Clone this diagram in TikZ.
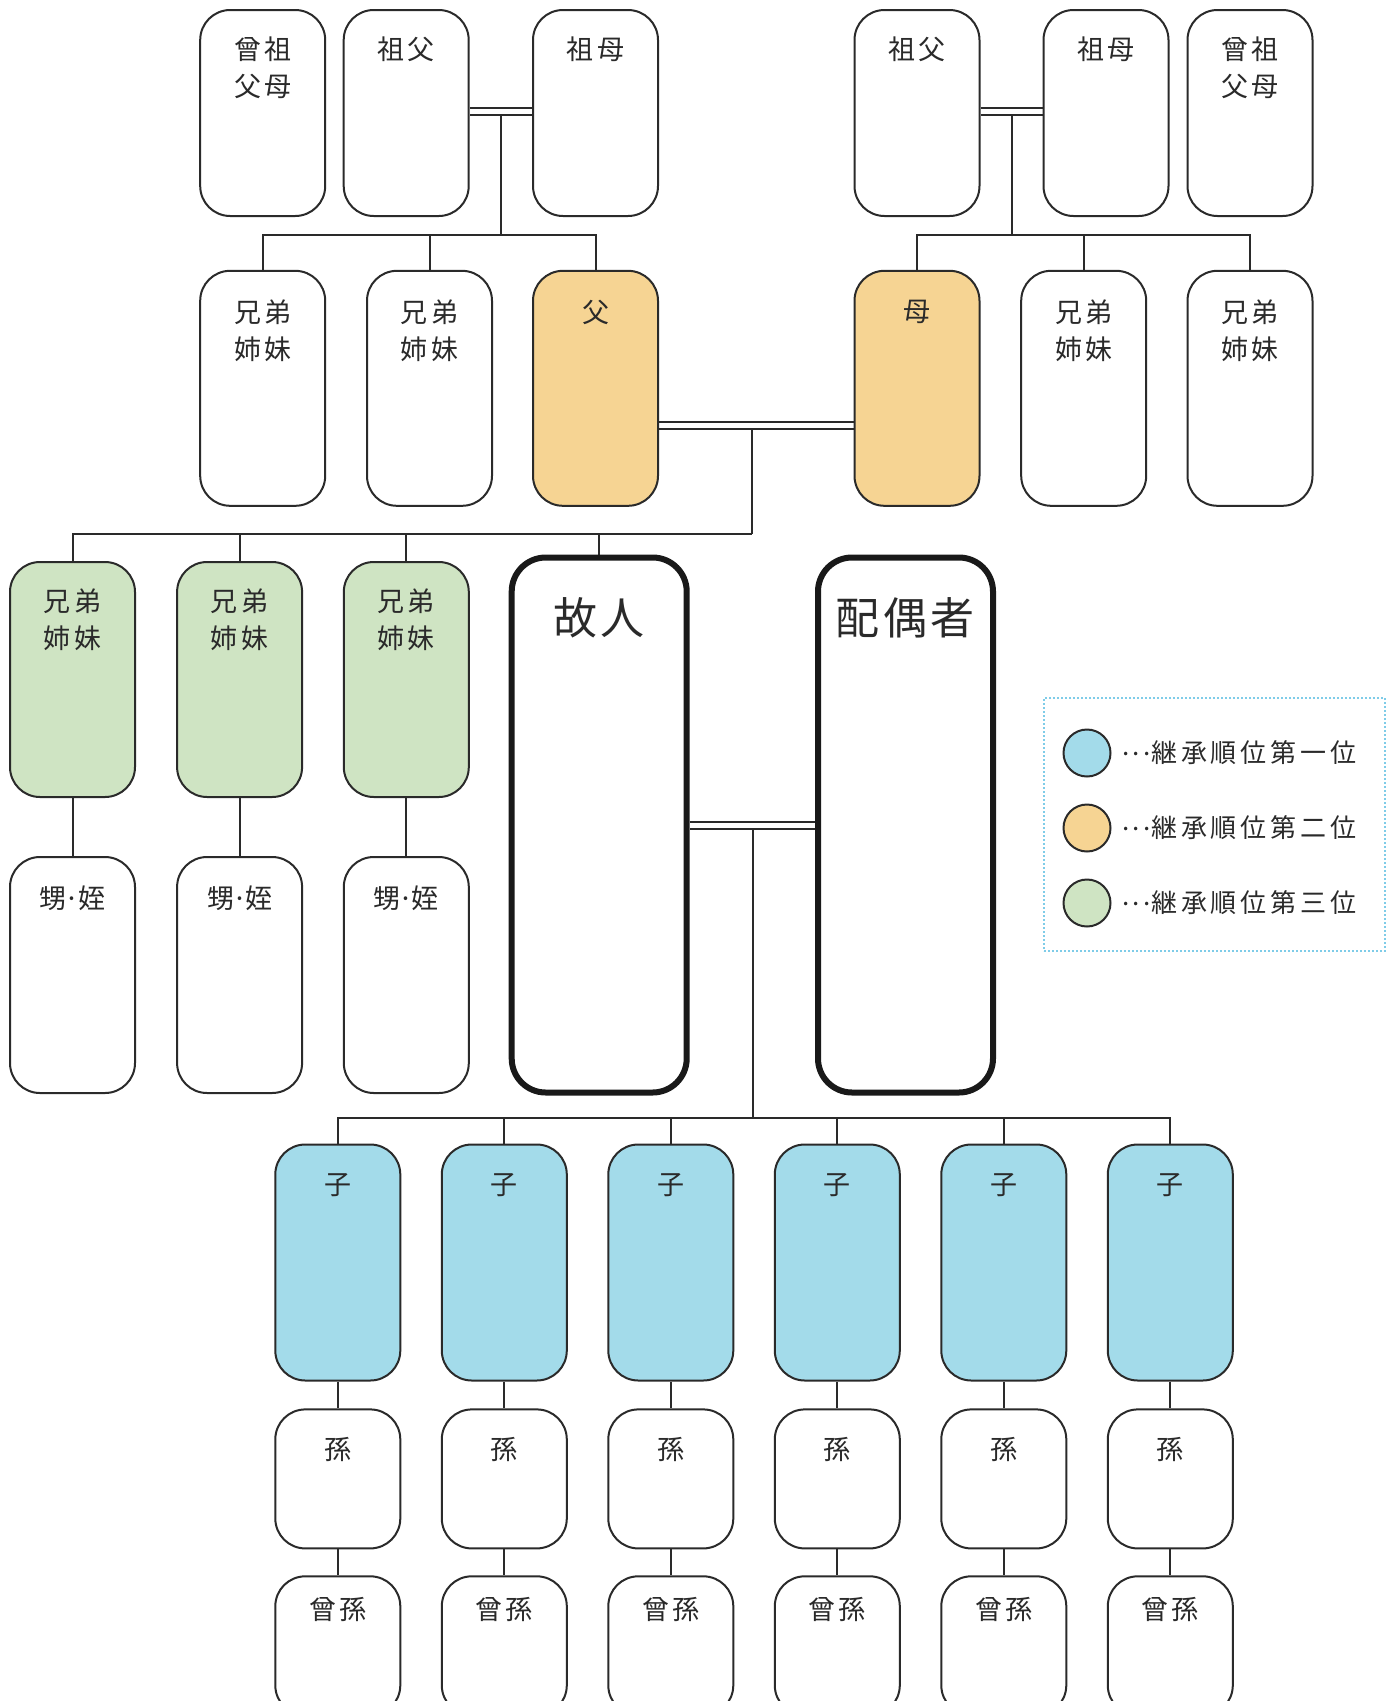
\documentclass[tikz,border=0pt]{standalone}
\usepackage{fontspec}
\newfontfamily\jp[LetterSpace=12]{Noto Sans CJK JP}
\newfontfamily\jplg[LetterSpace=15]{Noto Sans CJK JP}
\newfontfamily\jpbig[LetterSpace=8]{Noto Sans CJK JP}
\usetikzlibrary{calc}
\pgfdeclarelayer{bg}
\pgfsetlayers{bg,main}
\definecolor{ln}{HTML}{2A2A2A}
\definecolor{cblue}{HTML}{A3DBEA}
\definecolor{corange}{HTML}{F6D493}
\definecolor{cgreen}{HTML}{CFE4C3}
\definecolor{cdot}{HTML}{7FCCE8}
\newcommand\famnode[6]{\node[#1] (#2) at (#3,#4) {};
  \node[lab] (#2t) at ([yshift=-#5pt]#2.north) {#6};}
\newcommand\middots{\makebox[30pt][l]{\hspace{1pt}\raisebox{0.3em}{.\hspace{3.5pt}.\hspace{3.5pt}.}}}
\begin{document}
\begin{tikzpicture}[x=1pt,y=-1pt,
  fam/.style={draw=ln, line width=2pt, rounded corners=30pt, fill=white, minimum width=125pt, inner sep=0pt},
  toprow/.style={fam, minimum height=206pt},
  midrow/.style={fam, minimum height=235pt},
  kidrow/.style={fam, minimum height=236pt},
  grandrow/.style={fam, minimum height=139pt},
  mainbox/.style={draw=black!90, line width=6pt, rounded corners=34pt, fill=white, minimum width=175pt, minimum height=535pt, inner sep=0pt},
  lab/.style={font=\jp\fontsize{27}{37}\selectfont, align=center, anchor=north, inner sep=0pt, text=ln},
  biglab/.style={font=\jpbig\fontsize{44}{50}\selectfont, anchor=north, inner sep=0pt, text=ln},
  leglab/.style={font=\jplg\fontsize{26}{30}\selectfont, anchor=west, inner sep=0pt, text=ln},
  conn/.style={draw=ln, line width=2pt, line join=miter},
  marr/.style={draw=ln, line width=2pt, double=white, double distance=5pt},
  legdot/.style={circle, draw=ln, line width=2pt, minimum size=47pt, inner sep=0pt},
]
\useasboundingbox (0,0) rectangle (1394,1701);

% top row
\famnode{toprow}{A1}{262.7}{113}{28}{曾祖\\父母}
\famnode{toprow}{A2}{406.2}{113}{28}{祖父}
\famnode{toprow}{A3}{595.5}{113}{28}{祖母}
\famnode{toprow}{B1}{917}{113}{28}{祖父}
\famnode{toprow}{B2}{1106}{113}{28}{祖母}
\famnode{toprow}{B3}{1250}{113}{28}{曾祖\\父母}

% second row
\famnode{midrow}{S1}{262.7}{388.3}{30}{兄弟\\姉妹}
\famnode{midrow}{S2}{429.5}{388.3}{30}{兄弟\\姉妹}
\famnode{midrow,fill=corange}{F}{595.5}{388.3}{30}{父}
\famnode{midrow,fill=corange}{M}{917}{388.3}{30}{母}
\famnode{midrow}{S3}{1083.7}{388.3}{30}{兄弟\\姉妹}
\famnode{midrow}{S4}{1250}{388.3}{30}{兄弟\\姉妹}

% third row
\famnode{midrow,fill=cgreen}{G1}{72.5}{679.5}{28}{兄弟\\姉妹}
\famnode{midrow,fill=cgreen}{G2}{239.6}{679.5}{28}{兄弟\\姉妹}
\famnode{midrow,fill=cgreen}{G3}{406.3}{679.5}{28}{兄弟\\姉妹}
\famnode{kidrow}{N1}{72.5}{975}{30}{甥\hspace{-2pt}·\hspace{-2pt}姪}
\famnode{kidrow}{N2}{239.6}{975}{30}{甥\hspace{-2pt}·\hspace{-2pt}姪}
\famnode{kidrow}{N3}{406.3}{975}{30}{甥\hspace{-2pt}·\hspace{-2pt}姪}

\node[mainbox] (D) at (599.2,825) {};
\node[biglab] (Dt) at ([yshift=-42.7pt]D.north) {故人};
\node[mainbox] (P) at (905.5,825) {};
\node[biglab] (Pt) at ([yshift=-42.7pt]P.north) {配偶者};

% children
\foreach \i/\x in {1/337.8,2/504.3,3/670.8,4/837.3,5/1003.8,6/1170.3}{
  \famnode{kidrow,fill=cblue}{C\i}{\x}{1262.5}{30}{子}
  \famnode{grandrow}{K\i}{\x}{1478.9}{29}{孫}
  \famnode{grandrow}{H\i}{\x}{1645.8}{22}{曾孫}
}

% legend
\node[draw=cdot, line width=1.8pt, dash pattern=on 1.8pt off 2.2pt, minimum width=341pt, minimum height=253pt, inner sep=0pt] (L) at (1214.5,824.5) {};
\node[legdot, fill=cblue] (L1) at (1087,753) {};
\node[legdot, fill=corange] (L2) at (1087,828) {};
\node[legdot, fill=cgreen] (L3) at (1087,903) {};
\node[leglab] (L1t) at (1121,753) {\middots 継承順位第一位};
\node[leglab] (L2t) at (1121,828) {\middots 継承順位第二位};
\node[leglab] (L3t) at (1121,903) {\middots 継承順位第三位};

% connectors
\begin{pgfonlayer}{bg}
  \coordinate (m1) at (501,111.5);
  \coordinate (m2) at (1011.8,111.5);
  \coordinate (m3) at (752.4,425.8);
  \coordinate (m4) at (752.5,825.2);
  \coordinate (busA) at (0,235);
  \coordinate (busC) at (0,534);
  \coordinate (busD) at (0,1118.4);
  % verticals first
  \draw[conn] (m1) -- (m1 |- busA);
  \draw[conn] (m2) -- (m2 |- busA);
  \draw[conn] (m3) -- (m3 |- busC);
  \draw[conn] (m4) -- (m4 |- busD);
  % buses
  \draw[conn] (S1.north) -- (S1.north |- busA) -- (F.north |- busA) -- (F.north);
  \draw[conn] (S2.north) -- (S2.north |- busA);
  \draw[conn] (M.north) -- (M.north |- busA) -- (S4.north |- busA) -- (S4.north);
  \draw[conn] (S3.north) -- (S3.north |- busA);
  \draw[conn] (G1.north) -- (G1.north |- busC) -- (m3 |- busC);
  \draw[conn] (G2.north) -- (G2.north |- busC);
  \draw[conn] (G3.north) -- (G3.north |- busC);
  \draw[conn] (D.north) -- (D.north |- busC);
  \draw[conn] (C1.north) -- (C1.north |- busD) -- (C6.north |- busD) -- (C6.north);
  \foreach \i in {2,3,4,5}{\draw[conn] (C\i.north) -- (C\i.north |- busD);}
  \foreach \i in {1,...,6}{
    \draw[conn] (C\i.south) -- (K\i.north);
    \draw[conn] (K\i.south) -- (H\i.north);
  }
  \draw[conn] (G1.south) -- (N1.north);
  \draw[conn] (G2.south) -- (N2.north);
  \draw[conn] (G3.south) -- (N3.north);
  % marriage double lines
  \draw[marr] (A2.east |- m1) -- (A3.west |- m1);
  \draw[marr] (B1.east |- m2) -- (B2.west |- m2);
  \draw[marr] (F.east |- m3) -- (M.west |- m3);
  \draw[marr] (D.east |- m4) -- (P.west |- m4);
\end{pgfonlayer}
\end{tikzpicture}
\end{document}
